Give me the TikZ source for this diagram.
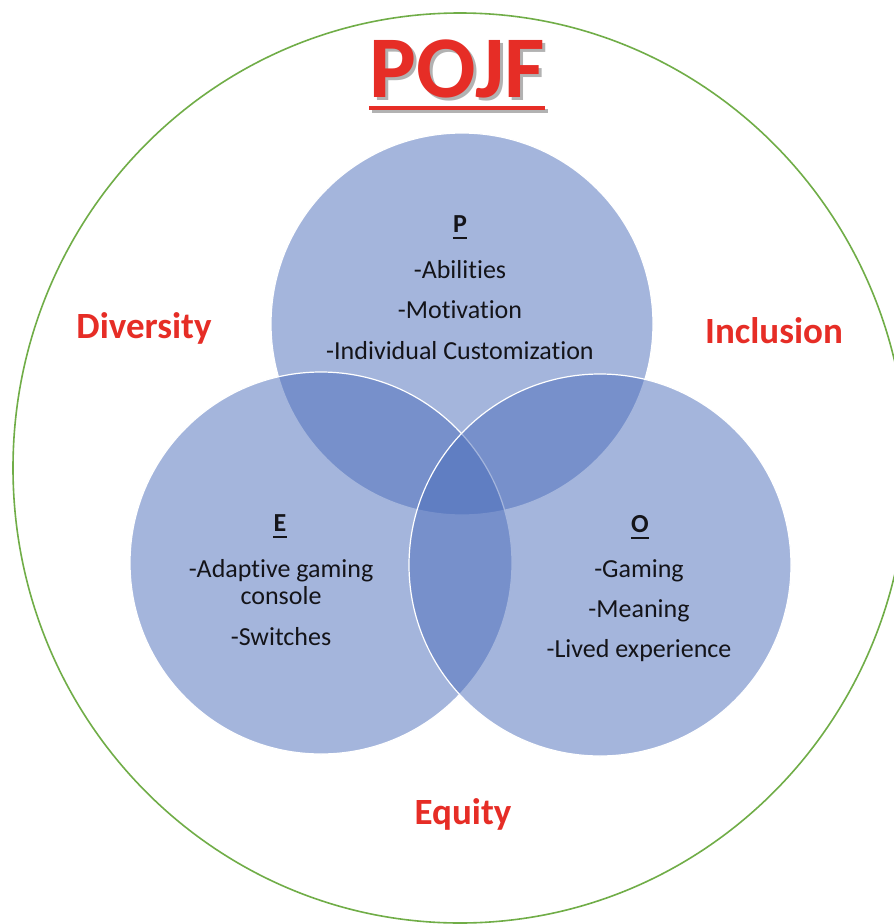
\documentclass[tikz,border=0pt]{standalone}
\usepackage{fontspec}
\setmainfont{Carlito}[Ligatures={NoCommon,NoContextual}]
\definecolor{vennblue}{RGB}{75,109,187}
\definecolor{labelred}{RGB}{230,45,38}
\definecolor{ringgreen}{RGB}{112,173,71}
\definecolor{inktext}{RGB}{20,20,25}
\begin{document}
\begin{tikzpicture}[x=1pt,y=-1pt,
  venn/.style={circle, minimum size=382pt, inner sep=0pt, fill=vennblue, fill opacity=0.5, draw=white, line width=1.2pt},
  item/.style={font=\fontsize{26}{30}\selectfont, text=inktext, anchor=base, inner sep=0pt},
  head/.style={item, font=\fontsize{26}{30}\selectfont\bfseries},
  tag/.style={font=\fontsize{37}{40}\selectfont\bfseries, text=labelred, anchor=base, inner sep=0pt},
  bigtitle/.style={font=\fontsize{88}{90}\selectfont\bfseries, anchor=base, inner sep=0pt},
  headline/.style={line width=2.5pt, inktext}]
\useasboundingbox (0,0) rectangle (894,924);
\fill[white] (0,0) rectangle (894,924);

% outer ring
\draw[ringgreen, line width=1.6pt] (460,468) ellipse [x radius=447, y radius=455];

% three overlapping circles
\node[venn] (P) at (462,324) {};
\node[venn] (E) at (321,563) {};
\node[venn] (O) at (600,565) {};

% title with drop shadow and underline
\node[bigtitle, text=black!30] (titleshadow) at (460,100) {POJF};
\node[bigtitle, text=labelred] (title) at (457,97) {POJF};
\draw[line width=3.5pt, black!30] ([xshift=3pt,yshift=-14pt]title.base west) -- ([xshift=3pt,yshift=-14pt]title.base east);
\draw[line width=3.5pt, labelred] ([yshift=-11pt]title.base west) -- ([yshift=-11pt]title.base east);

% P block
\node[head] (Ph) at (460,232) {P};
\draw[headline] ([yshift=-6pt]Ph.base west) -- ([yshift=-6pt]Ph.base east);
\node[item] (P1) at (460,278) {-Abilities};
\node[item] (P2) at (460,318) {-Motivation};
\node[item] (P3) at (460,359) {-Individual Customization};

% E block
\node[head] (Eh) at (280,531) {E};
\draw[headline] ([yshift=-6pt]Eh.base west) -- ([yshift=-6pt]Eh.base east);
\node[item] (E1) at (281,577) {-Adaptive gaming};
\node[item] (E2) at (281,604) {console};
\node[item] (E3) at (281,645) {-Switches};

% O block
\node[head] (Oh) at (640,532) {O};
\draw[headline] ([yshift=-6pt]Oh.base west) -- ([yshift=-6pt]Oh.base east);
\node[item] (O1) at (639,577) {-Gaming};
\node[item] (O2) at (639,617) {-Meaning};
\node[item] (O3) at (639,657) {-Lived experience};

% surrounding values
\node[tag] (div) at (144,338) {Diversity};
\node[tag] (inc) at (774,343) {Inclusion};
\node[tag] (equ) at (463,824) {Equity};
\end{tikzpicture}
\end{document}
